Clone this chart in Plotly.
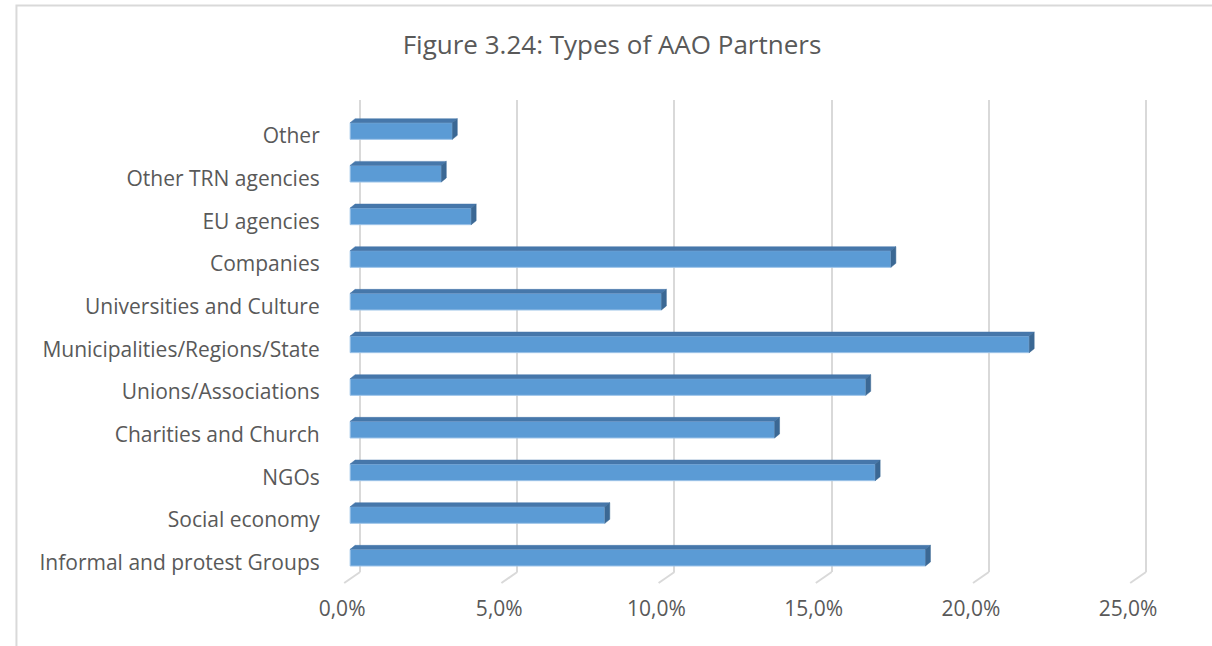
import plotly.graph_objects as go

# ---- data ----
categories = ["Informal and protest Groups", "Social economy", "NGOs",
              "Charities and Church", "Unions/Associations",
              "Municipalities/Regions/State", "Universities and Culture",
              "Companies", "EU agencies", "Other TRN agencies", "Other"]
values = [0.183, 0.081, 0.167, 0.135, 0.164, 0.216, 0.099, 0.172, 0.0385, 0.029, 0.0325]
x_ticks = [0.0, 0.05, 0.10, 0.15, 0.20, 0.25]
x_tick_labels = ["0,0%", "5,0%", "10,0%", "15,0%", "20,0%", "25,0%"]
title_text = "Figure 3.24: Types of AAO Partners"

# ---- layout geometry (pixels) ----
W, H = 1212, 646
PX_PER_UNIT = 158.5 / 0.05
X_MAX = 0.26
BAR_X_MIN = -0.003
GRID_X_MIN = -0.01
FRONT_ZERO_PX = 343
BACK_ZERO_PX = 353
BAR_TOP_PX, BAR_BOT_PX = 109.7, 579
GRID_TOP_PX, GRID_BOT_PX = 100, 572

DEPTH_X = 5 / PX_PER_UNIT              # depth offset along value axis
CAT_PX = (BAR_BOT_PX - BAR_TOP_PX) / 11
DEPTH_Y = 4 / CAT_PX                   # depth offset along category axis
HALF = 0.195                           # half bar thickness (category units)

FONT = "Open Sans"
TXT = "#595959"
GRID = "#D9D9D9"
FRONT = "#5B9BD5"
TOP = "#4677AA"
SIDE = "#3B6894"

def xdom(zero_px, xmin):
    return [(zero_px + xmin * PX_PER_UNIT) / W, (zero_px + X_MAX * PX_PER_UNIT) / W]

def ydom(top_px, bot_px):
    return [(H - bot_px) / H, (H - top_px) / H]

ypos = list(range(len(categories)))

fig = go.Figure()

# dummy trace for the gridline (back wall) subplot
fig.add_trace(go.Scatter(x=[None], y=[None], xaxis="x", yaxis="y",
                         showlegend=False, hoverinfo="skip"))

# front faces
fig.add_trace(go.Bar(x=values, y=ypos, base=0, orientation="h", width=2 * HALF,
                     marker=dict(color=FRONT, line=dict(color="#9CC3E8", width=1)),
                     xaxis="x2", yaxis="y2", showlegend=False))

# top faces
tx, ty = [], []
for v, c in zip(values, ypos):
    tx += [0, v, v + DEPTH_X, DEPTH_X, 0, None]
    ty += [c + HALF, c + HALF, c + HALF + DEPTH_Y, c + HALF + DEPTH_Y, c + HALF, None]
fig.add_trace(go.Scatter(x=tx, y=ty, fill="toself", fillcolor=TOP, mode="lines",
                         line=dict(color=TOP, width=0.5), xaxis="x2", yaxis="y2",
                         showlegend=False, hoverinfo="skip"))

# side faces
sx, sy = [], []
for v, c in zip(values, ypos):
    sx += [v, v, v + DEPTH_X, v + DEPTH_X, v, None]
    sy += [c - HALF, c + HALF, c + HALF + DEPTH_Y, c - HALF + DEPTH_Y, c - HALF, None]
fig.add_trace(go.Scatter(x=sx, y=sy, fill="toself", fillcolor=SIDE, mode="lines",
                         line=dict(color=SIDE, width=0.5), xaxis="x2", yaxis="y2",
                         showlegend=False, hoverinfo="skip"))

# floor diagonal lines under each gridline
shapes = []
floor_dx = 16 / PX_PER_UNIT
for t in x_ticks:
    shapes.append(dict(type="line", xref="x", yref="paper",
                       x0=t, x1=t - floor_dx,
                       y0=(H - GRID_BOT_PX) / H, y1=(H - 583) / H,
                       line=dict(color=GRID, width=2)))
# outer frame
shapes.append(dict(type="rect", xref="paper", yref="paper",
                   x0=6.5 / W, x1=1.05, y0=-0.05, y1=(H - 5.5) / H,
                   line=dict(color=GRID, width=2), fillcolor="rgba(0,0,0,0)"))

fig.update_layout(
    width=W, height=H, autosize=False,
    margin=dict(l=0, r=0, t=0, b=0),
    paper_bgcolor="white", plot_bgcolor="rgba(0,0,0,0)",
    font=dict(family=FONT, color=TXT, size=21),
    showlegend=False,
    title=dict(text=title_text, x=612 / W, xanchor="center",
               y=(H - 45) / H, yanchor="middle",
               font=dict(family=FONT, size=26, color=TXT)),
    xaxis=dict(domain=xdom(BACK_ZERO_PX, GRID_X_MIN), range=[GRID_X_MIN, X_MAX],
               anchor="y", tickvals=x_ticks, ticktext=x_tick_labels,
               showgrid=True, gridcolor=GRID, gridwidth=2, zeroline=False,
               showline=False, ticks="", ticklabelshift=-18, ticklabelstandoff=22,
               tickfont=dict(size=21, color=TXT), fixedrange=True),
    yaxis=dict(domain=ydom(GRID_TOP_PX, GRID_BOT_PX), range=[0, 1], anchor="x",
               showgrid=False, zeroline=False, showline=False,
               showticklabels=False, ticks="", fixedrange=True),
    xaxis2=dict(domain=xdom(FRONT_ZERO_PX, BAR_X_MIN), range=[BAR_X_MIN, X_MAX],
                anchor="y2", showgrid=False, zeroline=False, showline=False,
                showticklabels=False, ticks="", fixedrange=True),
    yaxis2=dict(domain=ydom(BAR_TOP_PX, BAR_BOT_PX), range=[-0.5, len(categories) - 0.5],
                anchor="x2", tickvals=ypos, ticktext=categories,
                showgrid=False, zeroline=False, showline=False, ticks="",
                ticklabelstandoff=20, ticklabelshift=5,
                tickfont=dict(size=21, color=TXT), fixedrange=True),
    shapes=shapes,
)

fig.write_html("out.html",
               config={"displayModeBar": False, "staticPlot": True},
               post_script="document.body.style.margin='0';document.body.style.overflow='hidden';")
